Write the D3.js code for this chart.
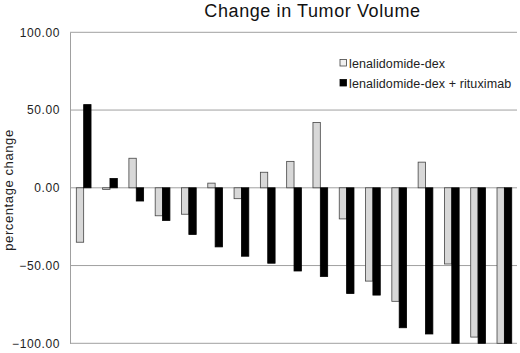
<!DOCTYPE html>
<html lang="en">
<head>
<meta charset="utf-8">
<title>Change in Tumor Volume</title>
<script src="https://d3js.org/d3.v7.min.js"></script>
<style>
  body { margin: 0; background: #fff; }
  svg { font-family: "Liberation Sans", Arial, sans-serif; }
</style>
</head>
<body>
<script>
// patient index (one group per patient)
const patients = d3.range(1, 18);
const lenDex = [-35, -1, 19, -18, -17, 3, -7, 10, 17, 42, -20, -60, -73, 16.5, -49, -96, -100];
const lenDexRit = [53.5, 6, -8.5, -21, -30, -38, -44, -48.5, -53.5, -57, -68, -69, -90, -94, -100, -100, -100];
const seriesNames = ["lenalidomide-dex", "lenalidomide-dex + rituximab"];
const yTicks = [-100, -50, 0, 50, 100];

const width = 520, height = 353;
const plotLeft = 70, plotRight = 517, plotTop = 32.3, plotBottom = 343.3;

const svg = d3.select("body").append("svg")
    .attr("width", width)
    .attr("height", height);

const x = d3.scaleBand()
    .domain(patients)
    .range([plotLeft, plotRight])
    .paddingInner(0)
    .paddingOuter(0);

const inner = d3.scaleBand()
    .domain([0, 1])
    .range([x.bandwidth() * 0.24, x.bandwidth() * 0.80]);

const y = d3.scaleLinear()
    .domain([-100, 100])
    .range([plotBottom, plotTop]);

// gridlines
svg.append("g")
    .selectAll("line")
    .data(yTicks)
    .enter().append("line")
    .attr("x1", plotLeft).attr("x2", plotRight)
    .attr("y1", d => y(d)).attr("y2", d => y(d))
    .attr("stroke", "#a0a0a0")
    .attr("stroke-width", 1);

// left axis
const yAxis = d3.axisLeft(y)
    .tickValues(yTicks)
    .tickFormat(d3.format(".2f"))
    .tickSize(0)
    .tickPadding(10);

const ax = svg.append("g")
    .attr("transform", "translate(" + plotLeft + ",0)")
    .call(yAxis);
ax.select(".domain").attr("stroke", "#a0a0a0");
ax.selectAll("text")
    .attr("fill", "#222")
    .style("font-size", "12px")
    .style("letter-spacing", "0.6px");

const rows = patients.map((p, i) => ({p: p, vals: [lenDex[i], lenDexRit[i]]}));

const groups = svg.selectAll(".grp")
    .data(rows)
    .enter().append("g")
    .attr("transform", d => "translate(" + x(d.p) + ",0)");

groups.selectAll("rect")
    .data(d => d.vals.map((v, k) => ({k: k, v: v})))
    .enter().append("rect")
    .attr("x", d => inner(d.k))
    .attr("width", inner.bandwidth())
    .attr("y", d => y(Math.max(0, d.v)))
    .attr("height", d => Math.abs(y(d.v) - y(0)))
    .attr("fill", d => d.k === 0 ? "#d8d8d8" : "#000")
    .attr("stroke", d => d.k === 0 ? "#444" : "#000")
    .attr("stroke-width", 0.8);

// title
svg.append("text")
    .attr("x", 312.5)
    .attr("y", 17)
    .attr("text-anchor", "middle")
    .style("font-size", "18px")
    .style("letter-spacing", "0.6px")
    .attr("fill", "#111")
    .text("Change in Tumor Volume");

// y axis title
svg.append("text")
    .attr("transform", "translate(13,190) rotate(-90)")
    .attr("text-anchor", "middle")
    .style("font-size", "13px")
    .style("letter-spacing", "0.6px")
    .attr("fill", "#222")
    .text("percentage change");

// legend
const legend = svg.append("g")
    .attr("transform", "translate(340,63)");
seriesNames.forEach((name, i) => {
  const g = legend.append("g").attr("transform", "translate(0," + (i * 20) + ")");
  g.append("rect")
    .attr("x", 0).attr("y", -3.5)
    .attr("width", 6.5).attr("height", 6.5)
    .attr("fill", i === 0 ? "#f0f0f0" : "#000")
    .attr("stroke", i === 0 ? "#444" : "#000")
    .attr("stroke-width", 0.8);
  g.append("text")
    .attr("x", 9)
    .attr("y", 4.5)
    .style("font-size", "12.5px")
    .style("letter-spacing", "0.1px")
    .attr("fill", "#222")
    .text(name);
});
</script>
</body>
</html>
